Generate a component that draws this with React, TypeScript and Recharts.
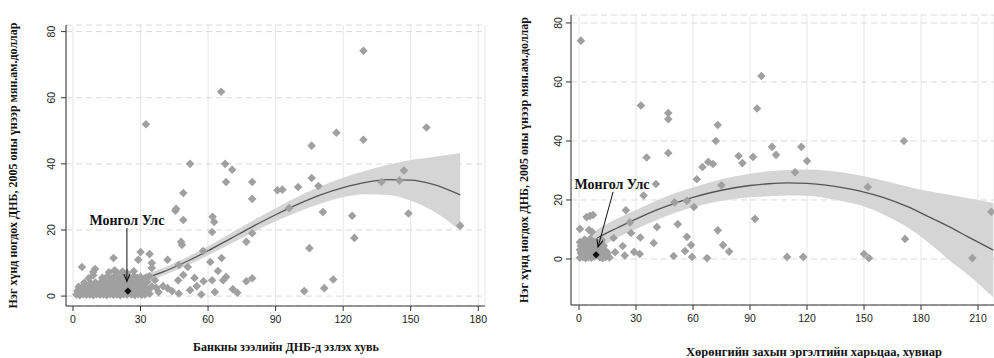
import React from 'react';
import { ComposedChart, Scatter, Line, Area, XAxis, YAxis, CartesianGrid, Label } from 'recharts';

// ---------- tick labels & texts ----------
const leftTicksX = [0, 30, 60, 90, 120, 150, 180];
const leftTicksY = [0, 20, 40, 60, 80];
const rightTicksX = [0, 30, 60, 90, 120, 150, 180, 210];
const rightTicksY = [0, 20, 40, 60, 80];

const leftXTitle = 'Банкны зээлийн ДНБ-д эзлэх хувь';
const rightXTitle = 'Хөрөнгийн захын эргэлтийн харьцаа, хувиар';
const yTitle = 'Нэг хүнд ногдох ДНБ, 2005 оны үнээр мян.ам.доллар';
const mongolLabel = 'Монгол Улс';

// ---------- left chart data ----------
const leftOuter: [number, number][] = [
  [32.4, 52], [65.8, 61.8], [52, 40], [67.6, 40], [70.7, 38.2], [68, 34.5], [49, 31.2], [79.6, 34.5],
  [79.6, 29.4], [90.8, 32], [93, 32.2], [100, 33], [106, 45.5], [117, 49.4], [129, 74.2], [129, 47.3],
  [157, 51], [106, 35.7], [109, 33.3], [45.8, 26.4], [96, 26.6], [111, 25.4], [124, 24.3], [125, 17.6],
  [137, 34.5], [145, 35], [147, 38], [149, 25], [172, 21.3], [105, 14.5], [77, 16.4], [79.6, 19],
  [77, 4.5], [79.6, 5.4], [102.7, 1.5], [111.6, 2.4], [115.6, 5],
  [62, 24], [62.7, 22.4], [61.8, 19.4], [57.8, 13.6], [61, 10.3], [66, 11.5], [64.4, 7.6], [61.8, 4.8],
  [66.7, 4.8], [68, 5.8], [71, 2.1], [45.5, 25.8], [49, 23], [48, 16.4], [48.4, 15.5], [47, 9.4],
  [51, 8.8], [49, 6.4], [46.7, 4.8], [55, 3], [42, 11], [35, 10], [34, 12.7], [30, 13.3], [29, 11],
  [18, 11.5], [4, 8.8], [9, 7.3], [9.8, 8.2], [35, 8.5], [36.4, 4.8], [40, 3], [42, 2.4],
  [38, 1.2], [44, 1.5], [47, 0.8], [52, 1.8], [57, 0.5], [58, 4.5], [63, 1.2], [73, 1], [54, 5.5],
];
const leftCluster: [number, number][] = [
  [1.5, 0.5], [3, 0.3], [4.5, 0.6], [6, 0.4], [7.5, 0.5], [9, 0.3], [10.5, 0.6], [12, 0.4], [13.5, 0.5],
  [15, 0.3], [16.5, 0.6], [18, 0.4], [19.5, 0.5], [21, 0.3], [22.5, 0.6], [24, 0.4], [26, 0.5], [27.5, 0.3],
  [29, 0.6], [30.5, 0.4], [32, 0.5], [34, 0.7],
  [2, 1.6], [3.5, 1.4], [5, 1.7], [6.5, 1.5], [8, 1.3], [9.5, 1.6], [11, 1.4], [12.5, 1.7], [14, 1.5],
  [15.5, 1.3], [17, 1.6], [18.5, 1.4], [20, 1.7], [21.5, 1.5], [23, 1.8], [26, 1.6], [27.5, 1.4], [29, 1.7],
  [30.5, 1.5], [32, 1.3], [33.5, 1.8],
  [2.5, 2.8], [4, 2.6], [6, 2.9], [7.5, 2.7], [9, 2.5], [11, 2.8], [13, 2.6], [14.5, 2.9], [16, 2.7],
  [17.5, 3.0], [19, 2.6], [20.5, 2.8], [22, 3.1], [23.5, 2.7], [25.5, 2.9], [27, 3.2], [28.5, 2.8], [30, 3.0],
  [32, 2.6], [35, 2.9], [37, 2.5],
  [5, 4.0], [8, 3.8], [10, 4.1], [12, 3.9], [14, 4.2], [16, 4.0], [18, 4.3], [19.5, 3.9], [21, 4.1],
  [22.5, 4.4], [24, 4.0], [26, 4.2], [28, 4.5], [29.5, 4.1], [31, 3.9], [33, 4.3],
  [7, 5.4], [9, 6.3], [13, 5.5], [15, 5.8], [17, 5.3], [18.5, 6.1], [20, 5.6], [22, 5.9], [23.5, 6.5],
  [25, 5.4], [27, 6.0], [28.5, 5.5], [30, 5.8], [32.5, 5.6], [34, 6.0],
  [16, 7.2], [18.5, 7.8], [20, 6.9], [22, 7.4], [24, 7.0], [27, 7.5],
];
const leftMongolia = [{ x: 24.4, y: 1.5 }];
const leftFitX = [24, 30, 40, 50, 60, 70, 80, 90, 100, 110, 120, 130, 140, 150, 160, 172];
const leftFitY = [4.0, 5.0, 7.3, 10.3, 13.7, 17.4, 21.1, 24.6, 27.8, 30.6, 32.8, 34.4, 35.2, 35.1, 33.8, 30.6];
const leftLo = [2.8, 3.8, 6.2, 9.0, 12.3, 15.8, 19.3, 22.6, 25.5, 28.0, 29.9, 30.8, 30.6, 28.9, 25.7, 19.8];
const leftHi = [5.2, 6.2, 8.5, 11.6, 15.1, 19.0, 22.9, 26.6, 30.1, 33.2, 35.8, 37.9, 39.7, 41.2, 42.1, 43.3];

// ---------- right chart data ----------
const rightOuter: [number, number][] = [
  [1, 74], [32.6, 52], [35.6, 34.4], [47, 49.5], [47, 47.4], [47, 35.9], [73, 45.4], [72, 40], [65, 31.2],
  [68, 32.9], [70.5, 32.2], [84, 34.9], [86, 32.5], [62, 27], [96, 62], [93.7, 51], [91.6, 34.6], [101.6, 38],
  [103.7, 35.3], [117, 38], [120, 33.2], [113.7, 29.4], [171, 40], [92.6, 13.6], [109.5, 0.7], [118, 0.7],
  [152, 24.4], [150, 1.7], [152.6, 0.3], [171.6, 6.8], [207, 0.3], [217, 16],
  [75, 25], [40.5, 25.4], [34, 21.5], [50.3, 19.2], [56.8, 19.7], [60.5, 17.6], [24.7, 16.5], [26.8, 12.4],
  [41, 10.8], [52, 11.8], [27.4, 8.8], [32.3, 7.3], [18.2, 7.1], [56.8, 7.5], [73, 9.7], [39.3, 5.4], [23, 4.4],
  [59, 4.7], [75.8, 4.7], [79, 2.5], [55.8, 2.7], [49.8, 1], [67.4, 0.3], [59.5, 0.7], [32, 1.7], [29, 2.4],
  [24.1, 1.2], [19, 2.3],
  [0.5, 10.2], [4, 14.2], [5.8, 14.6], [7.4, 14.9], [5.3, 9.8], [6.8, 9.2],
];
const rightCluster: [number, number][] = [
  [0.5, 0.4], [2, 0.7], [3.5, 0.3], [5, 0.6], [6.5, 0.4], [8, 0.8], [11, 0.5], [12.5, 0.3], [14, 0.7], [16, 0.5],
  [1, 1.9], [2.5, 1.6], [4, 2.0], [5.5, 1.7], [7, 1.9], [10.5, 1.8], [12, 2.1], [13.5, 1.6], [15, 2.0],
  [0.5, 3.1], [2, 2.9], [3.5, 3.3], [5, 3.0], [6.5, 3.2], [8, 2.9], [9.5, 3.3], [11, 3.0], [12.5, 3.2], [14, 2.8],
  [1, 4.4], [2.5, 4.2], [4, 4.6], [5.5, 4.3], [7, 4.5], [8.5, 4.2], [10, 4.6], [11.5, 4.3], [13, 4.5],
  [0.5, 5.7], [2, 5.5], [3.5, 5.9], [5, 5.6], [6.5, 5.8], [8, 5.5], [9.5, 5.7], [11, 5.4],
  [3, 6.6], [6, 6.8], [12, 6.4],
];
const rightMongolia = [{ x: 9, y: 1.4 }];
const rightFitX = [2, 10, 20, 30, 40, 50, 60, 75, 90, 100, 110, 120, 130, 140, 150, 160, 172.6, 185, 195, 205, 218];
const rightFitY = [3.4, 7.2, 10.5, 13.5, 16.4, 18.8, 20.9, 23.3, 24.9, 25.5, 25.8, 25.6, 25.0, 24.0, 22.7, 20.9, 17.8, 14.0, 10.9, 7.4, 3.0];
const rightLo = [0.5, 3.3, 7.2, 10.2, 13.0, 15.5, 17.5, 19.7, 20.9, 21.3, 21.5, 21.4, 20.6, 19.4, 17.8, 15.2, 10.8, 5.0, -0.5, -5.5, -13];
const rightHi = [6.3, 10.2, 13.6, 16.6, 19.6, 22.2, 24.2, 27.0, 28.9, 29.7, 30.2, 30.3, 30.0, 29.2, 28.0, 26.6, 24.6, 22.9, 21.8, 20.6, 19];

const toPts = (arr: [number, number][]) => arr.map(([x, y]) => ({ x, y }));
const toFit = (xs: number[], ys: number[], lo: number[], hi: number[]) =>
  xs.map((x, i) => ({ x, y: ys[i], band: [lo[i], hi[i]] }));

const GREY = '#a0a0a0';
const SANS = '"Liberation Sans", Arial, sans-serif';
const SERIF = '"Liberation Serif", "Times New Roman", serif';

const Diamond = (r: number, fill: string) => (p: any) => {
  const { cx, cy } = p;
  if (cx == null || cy == null) return <g />;
  return <polygon points={`${cx},${cy - r} ${cx + r},${cy} ${cx},${cy + r} ${cx - r},${cy}`} fill={fill} />;
};

const MongolMark = (lx: number, ly: number, ax1: number, ay1: number, ax2: number, ay2: number) => (p: any) => {
  const { cx, cy } = p;
  if (cx == null || cy == null) return <g />;
  const r = 3.6;
  const x1 = cx + ax1, y1 = cy + ay1, x2 = cx + ax2, y2 = cy + ay2;
  const dx = x2 - x1, dy = y2 - y1;
  const len = Math.sqrt(dx * dx + dy * dy);
  const ux = dx / len, uy = dy / len;
  const hl = 7, hw = 3;
  const bx = x2 - ux * hl, by = y2 - uy * hl;
  const px = -uy, py = ux;
  return (
    <g>
      <polygon points={`${cx},${cy - r} ${cx + r},${cy} ${cx},${cy + r} ${cx - r},${cy}`} fill="#111" />
      <text x={cx + lx} y={cy + ly} textAnchor="middle" fontFamily={SERIF} fontWeight="bold" fontSize={14} fill="#111">
        {mongolLabel}
      </text>
      <line x1={x1} y1={y1} x2={x2} y2={y2} stroke="#111" strokeWidth={1} />
      <polyline
        points={`${bx + px * hw},${by + py * hw} ${x2},${y2} ${bx - px * hw},${by - py * hw}`}
        fill="none"
        stroke="#111"
        strokeWidth={1.2}
      />
    </g>
  );
};

const XTick = (p: any) => (
  <text x={p.x} y={p.y + 10} textAnchor="middle" fontFamily={SANS} fontSize={10.5} fill="#222">
    {p.payload.value}
  </text>
);
const YTick = (shift: number) => (p: any) => {
  const x = p.x + shift;
  return (
    <text x={x} y={p.y} transform={`rotate(-90 ${x} ${p.y})`} textAnchor="middle" fontFamily={SANS} fontSize={10.5} fill="#222">
      {p.payload.value}
    </text>
  );
};

type PanelProps = {
  points: { x: number; y: number }[];
  mongolia: { x: number; y: number }[];
  fit: { x: number; y: number; band: number[] }[];
  xDomain: [number, number];
  yDomain: [number, number];
  xTicks: number[];
  yTicks: number[];
  margin: { top: number; right: number; bottom: number; left: number };
  yAxisWidth: number;
  xAxisHeight: number;
  yShift: number;
  xTitle: string;
  xTitleX: number;
  xTitleY: number;
  xTitleSize: number;
  yTitleX: number;
  mark: (p: any) => any;
};

const Panel = (props: PanelProps) => {
  const plotTop = props.margin.top;
  const plotH = 358 - props.margin.top - props.xAxisHeight;
  const yCenter = plotTop + plotH / 2;
  return (
    <ComposedChart width={494} height={358} margin={props.margin}>
      <CartesianGrid horizontal={false} stroke="#e6e6e6" />
      <CartesianGrid vertical={false} stroke="#dadada" strokeDasharray="6 4" />
      <XAxis
        type="number"
        dataKey="x"
        domain={props.xDomain}
        ticks={props.xTicks}
        interval={0}
        allowDataOverflow
        height={props.xAxisHeight}
        stroke="#333"
        tickSize={5}
        tick={XTick}
      >
        <Label
          content={() => (
            <text x={props.xTitleX} y={props.xTitleY} textAnchor="middle" fontFamily={SERIF} fontWeight="bold" fontSize={props.xTitleSize} fill="#111">
              {props.xTitle}
            </text>
          )}
        />
      </XAxis>
      <YAxis
        type="number"
        dataKey="y"
        domain={props.yDomain}
        ticks={props.yTicks}
        interval={0}
        allowDataOverflow
        width={props.yAxisWidth}
        stroke="#333"
        tickSize={5}
        tick={YTick(props.yShift)}
      >
        <Label
          content={() => (
            <text
              x={props.yTitleX}
              y={yCenter}
              transform={`rotate(-90 ${props.yTitleX} ${yCenter})`}
              textAnchor="middle"
              fontFamily={SERIF}
              fontWeight="bold"
              fontSize={12}
              fill="#111"
            >
              {yTitle}
            </text>
          )}
        />
      </YAxis>
      <Area data={props.fit} dataKey="band" type="monotone" fill="#d5d5d5" fillOpacity={1} stroke="none" isAnimationActive={false} />
      <Line data={props.fit} dataKey="y" type="monotone" stroke="#555" strokeWidth={1.3} dot={false} isAnimationActive={false} />
      <Scatter data={props.points} dataKey="y" shape={Diamond(4.3, GREY)} isAnimationActive={false} />
      <Scatter data={props.mongolia} dataKey="y" shape={props.mark} isAnimationActive={false} />
    </ComposedChart>
  );
};

export default function App() {
  return (
    <div style={{ position: 'absolute', left: 0, top: 0, width: 994, height: 358, background: '#fff', overflow: 'hidden' }}>
      <div style={{ position: 'absolute', left: 0, top: 0 }}>
        <Panel
          points={[...toPts(leftOuter), ...toPts(leftCluster)]}
          mongolia={leftMongolia}
          fit={toFit(leftFitX, leftFitY, leftLo, leftHi)}
          xDomain={[-3.1, 183]}
          yDomain={[-3, 82]}
          xTicks={leftTicksX}
          yTicks={leftTicksY}
          margin={{ top: 25, right: 9, bottom: 0, left: 0 }}
          yAxisWidth={66}
          xAxisHeight={52}
          yShift={-4}
          xTitle={leftXTitle}
          xTitleX={286}
          xTitleY={350.5}
          xTitleSize={12}
          yTitleX={17}
          mark={MongolMark(-1, -66.5, -1, -63, -1, -10)}
        />
      </div>
      <div style={{ position: 'absolute', left: 500, top: 0 }}>
        <Panel
          points={[...toPts(rightOuter), ...toPts(rightCluster)]}
          mongolia={rightMongolia}
          fit={toFit(rightFitX, rightFitY, rightLo, rightHi)}
          xDomain={[-4.2, 218.4]}
          yDomain={[-15.6, 82.7]}
          xTicks={rightTicksX}
          yTicks={rightTicksY}
          margin={{ top: 15, right: 0, bottom: 0, left: 0 }}
          yAxisWidth={71}
          xAxisHeight={53}
          yShift={-2}
          xTitle={rightXTitle}
          xTitleX={314}
          xTitleY={356}
          xTitleSize={12.5}
          yTitleX={28}
          mark={MongolMark(16, -66, 17, -63, 2, -8)}
        />
      </div>
    </div>
  );
}
